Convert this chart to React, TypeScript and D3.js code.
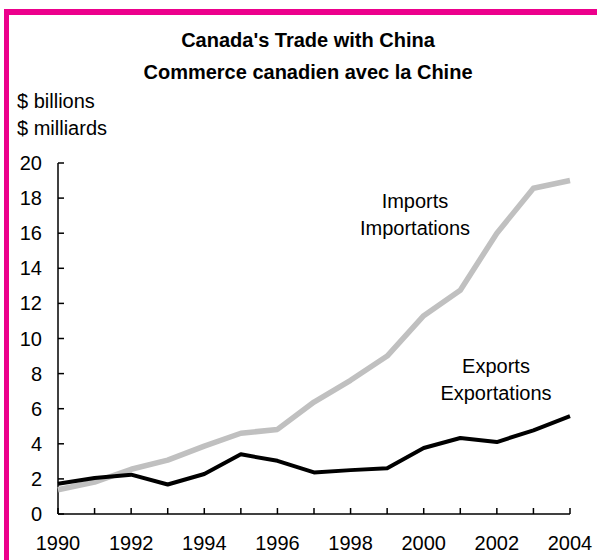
import React from 'react';
import * as d3 from 'd3';

const years = [1990, 1991, 1992, 1993, 1994, 1995, 1996, 1997, 1998, 1999, 2000, 2001, 2002, 2003, 2004];
const imports = [1.38, 1.82, 2.55, 3.07, 3.87, 4.6, 4.82, 6.38, 7.62, 9.0, 11.3, 12.75, 16.0, 18.56, 19.0];
const exports = [1.72, 2.05, 2.24, 1.68, 2.28, 3.4, 3.03, 2.37, 2.5, 2.6, 3.76, 4.33, 4.1, 4.77, 5.58];
const yTicks = [0, 2, 4, 6, 8, 10, 12, 14, 16, 18, 20];
const xLabels = [1990, 1992, 1994, 1996, 1998, 2000, 2002, 2004];

const width = 597;
const height = 560;
const font = 'Arial, "Liberation Sans", sans-serif';
const pink = '#ec008c';

export default function App() {
  const x = d3.scaleLinear().domain([1990, 2004]).range([58, 570]);
  const y = d3.scaleLinear().domain([0, 20]).range([514, 163]);

  const line = d3.line<number>()
    .x((_, i) => x(years[i]))
    .y(d => y(d));

  return (
    <svg
      width={width}
      height={height}
      style={{ position: 'absolute', left: 0, top: 0, display: 'block', background: '#fff' }}
      fontFamily={font}
    >
      {/* frame */}
      <rect x={4} y={9} width={width - 4} height={6} fill={pink} />
      <rect x={4} y={9} width={5} height={height - 9} fill={pink} />

      {/* titles */}
      <text x={308} y={47} textAnchor="middle" fontSize={20} fontWeight="bold">Canada's Trade with China</text>
      <text x={308} y={79} textAnchor="middle" fontSize={20} fontWeight="bold">Commerce canadien avec la Chine</text>
      <text x={17} y={108} fontSize={20}>$ billions</text>
      <text x={17} y={135} fontSize={20}>$ milliards</text>

      {/* y axis */}
      <line x1={x(1990)} x2={x(1990)} y1={y(20)} y2={y(0)} stroke="#000" strokeWidth={1.5} />
      {yTicks.map(t => (
        <g key={t}>
          <line x1={x(1990)} x2={x(1990) + 6} y1={y(t)} y2={y(t)} stroke="#000" strokeWidth={1.5} />
          <text x={42} y={y(t)} dy="0.35em" textAnchor="end" fontSize={20}>{t}</text>
        </g>
      ))}

      {/* x axis */}
      <line x1={x(1990)} x2={x(2004)} y1={y(0)} y2={y(0)} stroke="#000" strokeWidth={1.5} />
      {years.map(yr => (
        <line key={yr} x1={x(yr)} x2={x(yr)} y1={y(0)} y2={y(0) - 6} stroke="#000" strokeWidth={1.5} />
      ))}
      {xLabels.map(yr => (
        <text key={yr} x={x(yr)} y={550} textAnchor="middle" fontSize={20}>{yr}</text>
      ))}

      {/* series */}
      <path d={line(imports) || ''} fill="none" stroke="#c0c0c0" strokeWidth={5.5} strokeLinejoin="round" />
      <path d={line(exports) || ''} fill="none" stroke="#000" strokeWidth={4} strokeLinejoin="round" />

      {/* labels */}
      <text x={415} y={208} textAnchor="middle" fontSize={20}>Imports</text>
      <text x={415} y={235} textAnchor="middle" fontSize={20}>Importations</text>
      <text x={496} y={373} textAnchor="middle" fontSize={20}>Exports</text>
      <text x={496} y={400} textAnchor="middle" fontSize={20}>Exportations</text>
    </svg>
  );
}
